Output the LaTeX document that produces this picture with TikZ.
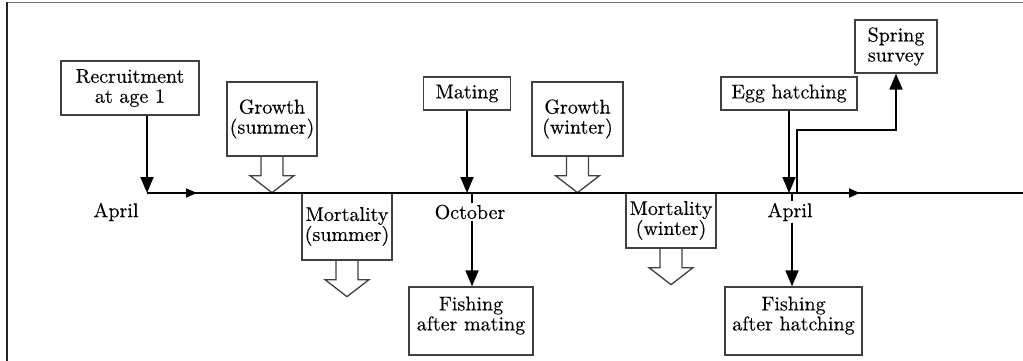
\documentclass[tikz,border=0pt]{standalone}
\usepackage{fontspec}
\newfontfamily\diagfont{lmroman10-regular.otf}[FakeBold=0.3]
\usetikzlibrary{arrows.meta,calc,decorations.markings}
\begin{document}
\begin{tikzpicture}[x=1pt,y=-1pt,
  box/.style={draw=black!75, line width=1.3pt, align=center, inner sep=0pt,
    font=\diagfont\fontsize{20}{20}\selectfont, text=black},
  txt/.style={align=center, inner sep=0pt, font=\diagfont\fontsize{20}{20}\selectfont, text=black},
  arr/.style={draw=black, line width=1.8pt, -{Triangle[length=16pt,width=13pt]}},
  tline/.style={draw=black, line width=1.8pt},
  lbl/.style={fill=white, inner sep=2pt, font=\diagfont\fontsize{20}{20}\selectfont, text=black},
  blockdown/.pic={\draw[draw=black!75, line width=1.3pt, line join=miter]
    (-11,0)--(-11,19)--(-22,19)--(0,36)--(22,19)--(11,19)--(11,0);}
]
\useasboundingbox (0,0) rectangle (1023,361);
% frame (top and left only)
\draw[line width=1.6pt, black!55] (6,2.5) -- (1023,2.5);
\draw[line width=2pt, black!85] (6.5,2) -- (6.5,361);

% boxes
\node[box, minimum width=138pt, minimum height=54pt] (rec) at (130,88) {Recruitment\\at age 1};
\node[box, minimum width=90pt, minimum height=74pt] (gs) at (272,119) {Growth\\(summer)};
\node[box, minimum width=90pt, minimum height=67pt] (ms) at (347,226.5) {Mortality\\(summer)};
\node[box, minimum width=87pt, minimum height=33pt] (mat) at (467,93.5) {Mating};
\node[box, minimum width=124pt, minimum height=68pt] (fam) at (471,321) {};
\node[txt, anchor=north] (famt) at ([yshift=-10pt]fam.north) {Fishing\\after mating};
\node[box, minimum width=91pt, minimum height=74pt] (gw) at (577.5,119) {Growth\\(winter)};
\node[box, minimum width=90pt, minimum height=55pt] (mw) at (671,220.5) {Mortality\\(winter)};
\node[box, minimum width=136pt, minimum height=33pt] (egg) at (789,93.5) {Egg hatching};
\node[box, minimum width=82pt, minimum height=53pt] (ss) at (896,46.5) {Spring\\survey};
\node[box, minimum width=137pt, minimum height=68pt] (fah) at (793.5,321) {};
\node[txt, anchor=north] (faht) at ([yshift=-10pt]fah.north) {Fishing\\after hatching};

% block arrows
\pic at (gs.south) {blockdown};
\pic at (ms.south) {blockdown};
\pic at (gw.south) {blockdown};
\pic at (mw.south) {blockdown};

% timeline
\coordinate (tl0) at (147,193);
\coordinate (tlend) at (1023,193);
\coordinate (oct) at (472,193);
\coordinate (apr) at (792,193);
\coordinate (sv0) at (797,193);
\coordinate (svbend) at (797,130);
\draw[tline, postaction={decorate}, decoration={markings,
    mark=at position 50pt with {\arrow{Triangle[length=11pt,width=9pt]}},
    mark=at position 713pt with {\arrow{Triangle[length=11pt,width=9pt]}}}]
  (tl0) -- (tlend);

% connectors
\draw[arr] (rec.south -| tl0) -- (tl0);
\draw[arr] (mat.south) -- (mat.south |- tl0);
\draw[arr] (oct) -- (oct |- fam.north);
\draw[arr] (egg.south) -- (egg.south |- tl0);
\draw[arr] (apr) -- (apr |- fah.north);
\draw[arr] (sv0) -- (svbend) -| (ss.south);

% month labels
\node[lbl] (april1) at (116,212) {April};
\node[lbl] (october) at (470,212) {October};
\node[lbl] (april2) at (790,212) {April};
\end{tikzpicture}
\end{document}
